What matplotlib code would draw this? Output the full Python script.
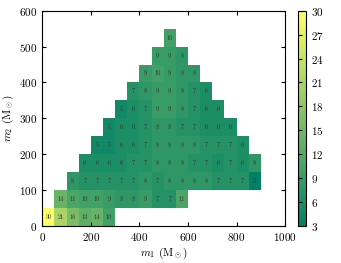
import numpy as np
import matplotlib
matplotlib.use('Agg')
import matplotlib.pyplot as plt

plt.rcParams['font.family'] = 'cmr10'
plt.rcParams['mathtext.fontset'] = 'cm'
plt.rcParams['axes.formatter.use_mathtext'] = True

# bin edges (M_sun)
m1_edges = np.arange(0, 1000 + 50, 50)
m2_edges = np.arange(0, 600 + 50, 50)

# each m2 row: first m1 bin index, then the counts in that row
row_start = [0, 1, 2, 3, 4, 5, 6, 7, 8, 9, 10]
row_counts = [
    [30, 21, 16, 13, 14, 10],
    [14, 11, 10, 10, 9, 8, 8, 9, 7, 7, 11],
    [8, 7, 7, 7, 7, 7, 8, 7, 8, 8, 8, 8, 7, 7, 7, 3],
    [6, 6, 6, 6, 7, 7, 8, 8, 8, 7, 7, 6, 7, 6, 8],
    [5, 5, 6, 6, 7, 8, 8, 8, 8, 7, 7, 7, 6],
    [5, 6, 6, 7, 8, 8, 7, 7, 6, 6, 6],
    [5, 6, 7, 9, 9, 8, 7, 6, 6],
    [7, 8, 9, 9, 8, 7, 6],
    [9, 10, 9, 8, 8],
    [9, 9, 8],
    [10],
]

grid = np.full((len(m2_edges) - 1, len(m1_edges) - 1), np.nan)
for j, (s, vals) in enumerate(zip(row_start, row_counts)):
    grid[j, s:s + len(vals)] = vals

fig = plt.figure(figsize=(3.41, 2.63), dpi=100)
ax = fig.add_axes([0.124, 0.141, 0.712, 0.818])
cax = fig.add_axes([0.873, 0.141, 0.0235, 0.818])

mesh = ax.pcolormesh(m1_edges, m2_edges, np.ma.masked_invalid(grid),
                     cmap='summer', vmin=3, vmax=30)
xc = 0.5 * (m1_edges[:-1] + m1_edges[1:])
yc = 0.5 * (m2_edges[:-1] + m2_edges[1:])
for j in range(grid.shape[0]):
    for i in range(grid.shape[1]):
        if not np.isnan(grid[j, i]):
            ax.text(xc[i], yc[j], '%d' % grid[j, i], ha='center', va='center',
                    fontsize=4.5, color='#333333')

ax.set_xlim(0, 1000)
ax.set_ylim(0, 600)
ax.set_xticks([0, 200, 400, 600, 800, 1000])
ax.set_yticks([0, 100, 200, 300, 400, 500, 600])
ax.tick_params(direction='in', top=True, right=True, labelsize=8, length=3)
ax.set_xlabel(r'$m_1$ (M$_\odot$)', fontsize=8, labelpad=2)
ax.set_ylabel(r'$m_2$ (M$_\odot$)', fontsize=8, labelpad=2)

cb = fig.colorbar(mesh, cax=cax, ticks=np.arange(3, 31, 3))
cb.ax.tick_params(direction='in', left=True, right=False, labelright=True,
                  labelsize=8, length=3)

plt.savefig('out.png', dpi=100)
